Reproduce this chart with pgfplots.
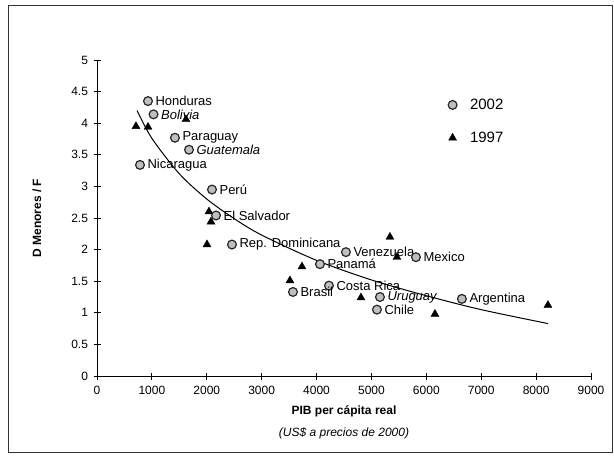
\documentclass[border=0pt]{standalone}
\usepackage{pgfplots}
\pgfplotsset{compat=1.18}
\usepackage{fontspec}
\setmainfont{Liberation Sans}
\begin{document}
\begin{tikzpicture}
\begin{axis}[name=ax, scale only axis, width=494pt, height=316pt,
  xmin=0, xmax=9000, ymin=0, ymax=5,
  axis x line*=bottom, axis y line*=left,
  axis line style={black, line width=0.9pt},
  xtick={0,1000,...,9000}, ytick={0,0.5,...,5},
  tick align=center, major tick length=7pt,
  tick style={black, line width=0.8pt},
  scaled x ticks=false,
  /pgf/number format/assume math mode=true,
  /pgf/number format/set thousands separator={},
  ticklabel style={font=\fontsize{12}{14}\selectfont},
  xticklabel style={yshift=-3pt},
  yticklabel style={xshift=-2pt},
  xlabel={\textbf{PIB per cápita real}\\[8pt]\textit{(US\$ a precios de 2000)}},
  xlabel style={align=center, font=\fontsize{12}{14}\selectfont, yshift=-4pt},
  ylabel={\textbf{D Menores / F}},
  ylabel style={font=\fontsize{12}{14}\selectfont, yshift=23pt},
  clip=false,
  legend style={draw=none, fill=none, at={(axis cs:6340,4.45)}, anchor=north west,
     font=\fontsize{15}{17}\selectfont, row sep=17pt,
     /tikz/every odd column/.append style={column sep=11pt}},
  legend cell align=left,
  reverse legend,
  every node near coord/.append style={anchor=west, xshift=7pt, font=\fontsize{13}{14}\selectfont, text=black, inner sep=0pt},
]
\addplot[only marks, mark=triangle*, mark size=4.6pt, mark options={fill=black, draw=black}] coordinates {
(710,3.95) (929,3.94) (1621,4.06) (2040,2.60) (2077,2.44) (2004,2.08)
(3734,1.73) (3515,1.51) (5337,2.20) (5464,1.88) (4809,1.24) (6157,0.98) (8215,1.12)
};
\addlegendentry{1997}
\addplot[only marks, mark=*, mark size=4.4pt, mark options={fill=gray!50, draw=black!85, line width=1.2pt},
  nodes near coords, point meta=explicit symbolic] table[meta=label] {
x y label
929 4.35 Honduras
1030 4.14 {\itshape Bolivia}
1420 3.77 Paraguay
1676 3.58 {\itshape Guatemala}
783 3.34 Nicaragua
2095 2.95 Perú
2168 2.54 {El Salvador}
2459 2.08 {Rep. Dominicana}
4535 1.96 Venezuela
4062 1.77 Panamá
4226 1.43 {Costa Rica}
3570 1.33 Brasil
5155 1.25 {\itshape Uruguay}
5100 1.05 Chile
5811 1.88 Mexico
6648 1.22 Argentina
};
\addlegendentry{2002}
\addplot[black, line width=1pt, smooth, forget plot] coordinates {
(730,4.20) (1000,3.76) (1500,3.20) (2000,2.80) (2500,2.49) (3000,2.23)
(4000,1.83) (5000,1.52) (6000,1.27) (7000,1.05) (8215,0.83)
};
\end{axis}
\useasboundingbox ([xshift=-97pt,yshift=-81pt]ax.south west) rectangle ([xshift=23pt,yshift=60pt]ax.north east);
\draw[black!80, line width=0.8pt] ([xshift=-89pt,yshift=-76pt]ax.south west) rectangle ([xshift=21pt,yshift=55pt]ax.north east);
\end{tikzpicture}
\end{document}
